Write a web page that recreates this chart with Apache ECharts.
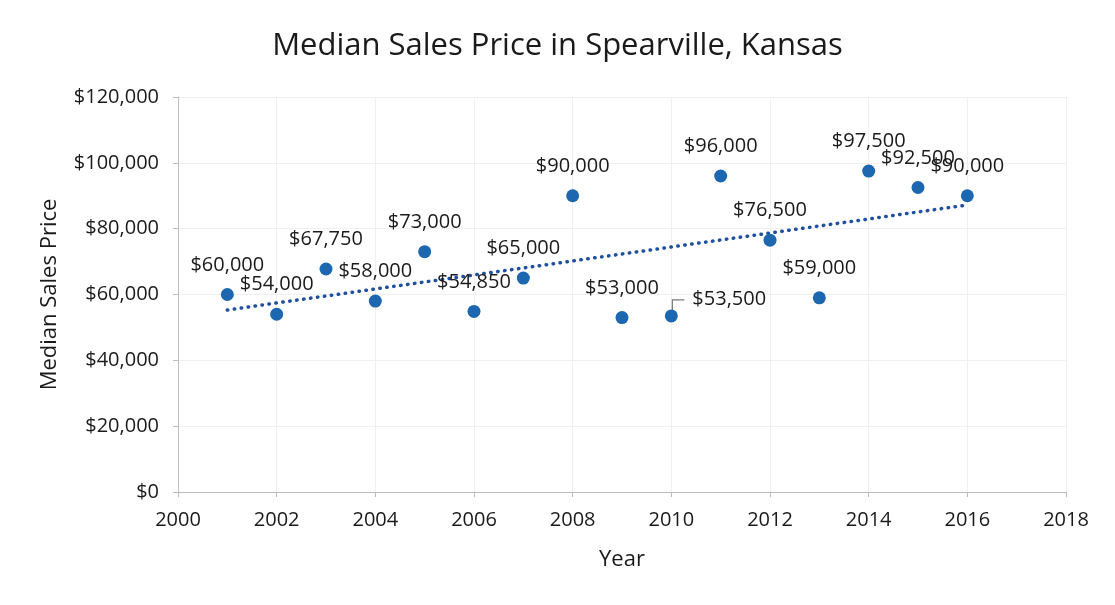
<!DOCTYPE html>
<html><head><meta charset="utf-8">
<script src="https://cdn.jsdelivr.net/npm/echarts@6/dist/echarts.min.js"></script>
<style>html,body{margin:0;padding:0;background:#fff}#c{width:1115px;height:605px}</style>
</head><body><div id="c"></div>
<script>
const years = [2001,2002,2003,2004,2005,2006,2007,2008,2009,2010,2011,2012,2013,2014,2015,2016];
const prices = [60000,54000,67750,58000,73000,54850,65000,90000,53000,53500,96000,76500,59000,97500,92500,90000];
const trendYears = [2001, 2016];
const trendValues = [55300, 87200];
const xTicks = [2000,2002,2004,2006,2008,2010,2012,2014,2016,2018];
const yTicks = [0,20000,40000,60000,80000,100000,120000];

const FONT = '"Open Sans", "Noto Sans", sans-serif';
const fmt = v => '$' + v.toLocaleString('en-US');

const LEADER_INDEX = 9;
const scatterData = years.map((y,i)=>({value:[y, prices[i]]}));

const chart = echarts.init(document.getElementById('c'));
chart.setOption({
  animation:false,
  backgroundColor:'#fff',
  title:{text:'Median Sales Price in Spearville, Kansas', left:'center', top:26,
    textStyle:{fontFamily:FONT, fontSize:31, fontWeight:'normal', color:'#1a1a1a'}},
  grid:{left:178, right:49, top:97, bottom:113},
  xAxis:{type:'value', min:xTicks[0], max:xTicks[xTicks.length-1], interval:xTicks[1]-xTicks[0],
    name:'Year', nameLocation:'middle', nameGap:57,
    nameTextStyle:{fontFamily:FONT, fontSize:22, color:'#1a1a1a'},
    axisLine:{show:true, lineStyle:{color:'#bdbdbd', width:1}},
    axisTick:{show:true, length:5, lineStyle:{color:'#bdbdbd'}},
    axisLabel:{fontFamily:FONT, fontSize:20, color:'#1a1a1a', margin:18, formatter:v=>String(v)},
    splitLine:{show:true, lineStyle:{color:'#f0f0f0'}}
  },
  yAxis:{type:'value', min:yTicks[0], max:yTicks[yTicks.length-1], interval:yTicks[1]-yTicks[0],
    name:'Median Sales Price', nameLocation:'middle', nameGap:117, nameRotate:90,
    nameTextStyle:{fontFamily:FONT, fontSize:22, color:'#1a1a1a'},
    axisLine:{show:true, lineStyle:{color:'#bdbdbd', width:1}},
    axisTick:{show:true, length:5, lineStyle:{color:'#bdbdbd'}},
    axisLabel:{fontFamily:FONT, fontSize:20, color:'#1a1a1a', margin:19, formatter:fmt},
    splitLine:{show:true, lineStyle:{color:'#f0f0f0'}}
  },
  series:[
    {type:'line', data:trendYears.map((y,i)=>[y,trendValues[i]]), symbol:'none', silent:true,
      lineStyle:{color:'#1f4f9e', width:3.5, type:[0.5,6.5], cap:'round'}, z:1},
    {type:'scatter', data:scatterData, symbolSize:13,
      itemStyle:{color:'#1c67b0', opacity:1}, z:3,
      label:{show:true, position:'top', distance:13, formatter:p=>fmt(p.value[1]),
        fontFamily:FONT, fontSize:20, color:'#1a1a1a'},
      labelLayout:function(p){
        if (p.dataIndex===LEADER_INDEX){
          const r = p.rect;
          const cx = r.x + r.width/2, cy = r.y + r.height/2;
          return {x: cx + 21, y: cy - 17, align:'left', verticalAlign:'middle'};
        }
        return {};
      }
    }
  ]
});
// leader line for the moved label, positioned through the chart's own scales
const pt = chart.convertToPixel({seriesIndex:1}, [years[LEADER_INDEX], prices[LEADER_INDEX]]);
chart.setOption({graphic:[{type:'polyline', z:2, silent:true,
  shape:{points:[[pt[0]+1, pt[1]-3],[pt[0]+1, pt[1]-16],[pt[0]+13, pt[1]-16]]},
  style:{stroke:'#7a7a7a', lineWidth:1.2, fill:null}}]});
</script></body></html>
